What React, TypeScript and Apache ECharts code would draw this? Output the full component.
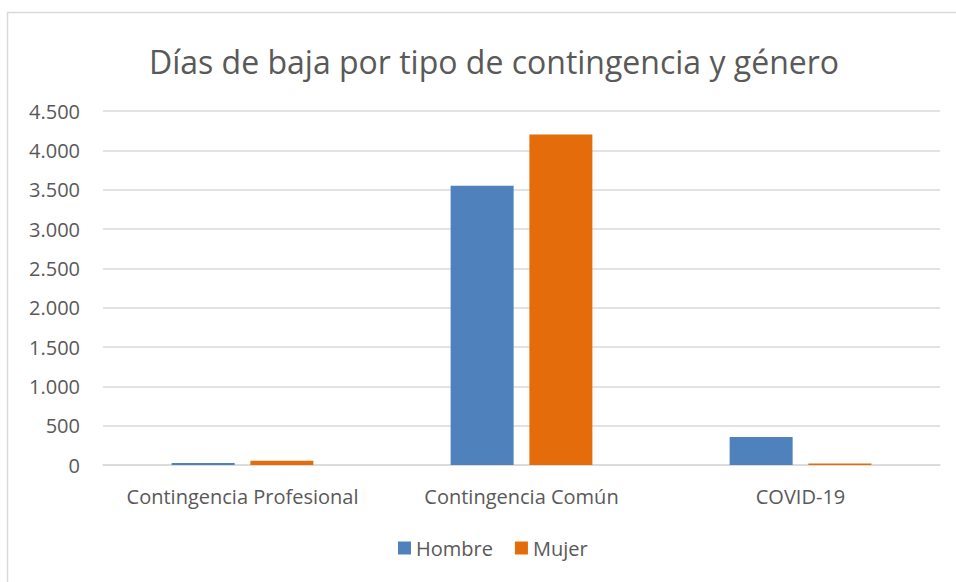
import React, { useEffect, useRef } from "react";
import * as echarts from "echarts";

const categories = ["Contingencia Profesional", "Contingencia Común", "COVID-19"];
const hombre = [25, 3550, 355];
const mujer = [55, 4200, 20];
const seriesNames = ["Hombre", "Mujer"];
const colors = ["#4F81BD", "#E46C0A"];

const fmt = (v: number) => String(v).replace(/\B(?=(\d{3})+(?!\d))/g, ".");

export default function App() {
  const ref = useRef<HTMLDivElement>(null);
  useEffect(() => {
    const chart = echarts.init(ref.current!, null, { renderer: "svg" });
    const font = "Open Sans, Noto Sans, sans-serif";
    chart.setOption({
      animation: false,
      backgroundColor: "#ffffff",
      title: {
        text: "Días de baja por tipo de contingencia y género",
        left: 489,
        textAlign: "center",
        top: 40,
        textStyle: { fontFamily: font, fontSize: 32, fontWeight: "normal", color: "#595959" },
      },
      graphic: [
        {
          type: "rect",
          shape: { x: 7.5, y: 12.5, width: 1000, height: 1000 },
          style: { fill: "none", stroke: "#d9d9d9", lineWidth: 1.5 },
          silent: true,
        },
      ],
      legend: {
        data: seriesNames,
        left: 393,
        bottom: 19,
        itemWidth: 13,
        itemHeight: 13,
        itemGap: 22,
        icon: "rect",
        textStyle: { fontFamily: font, fontSize: 20, color: "#595959" },
      },
      grid: { left: 103, right: 16, top: 111, bottom: 117, containLabel: false },
      xAxis: {
        type: "category",
        data: categories,
        axisTick: { show: false },
        axisLine: { lineStyle: { color: "#d9d9d9", width: 1.5 } },
        axisLabel: {
          fontFamily: font,
          fontSize: 20,
          color: "#595959",
          margin: 21,
          interval: 0,
          hideOverlap: false,
        },
      },
      yAxis: {
        type: "value",
        min: 0,
        max: 4500,
        interval: 500,
        axisLine: { show: false },
        axisTick: { show: false },
        splitLine: { lineStyle: { color: "#d9d9d9", width: 1.5 } },
        axisLabel: {
          fontFamily: font,
          fontSize: 20,
          color: "#595959",
          margin: 23,
          formatter: (v: number) => fmt(v),
        },
      },
      series: [
        {
          name: seriesNames[0],
          type: "bar",
          data: hombre,
          barWidth: 63,
          barGap: "25%",
          itemStyle: { color: colors[0] },
        },
        {
          name: seriesNames[1],
          type: "bar",
          data: mujer,
          barWidth: 63,
          barGap: "25%",
          itemStyle: { color: colors[1] },
        },
      ],
    });
    return () => chart.dispose();
  }, []);
  return (
    <div
      ref={ref}
      style={{ position: "fixed", left: 0, top: 0, width: 956, height: 582 }}
    />
  );
}
